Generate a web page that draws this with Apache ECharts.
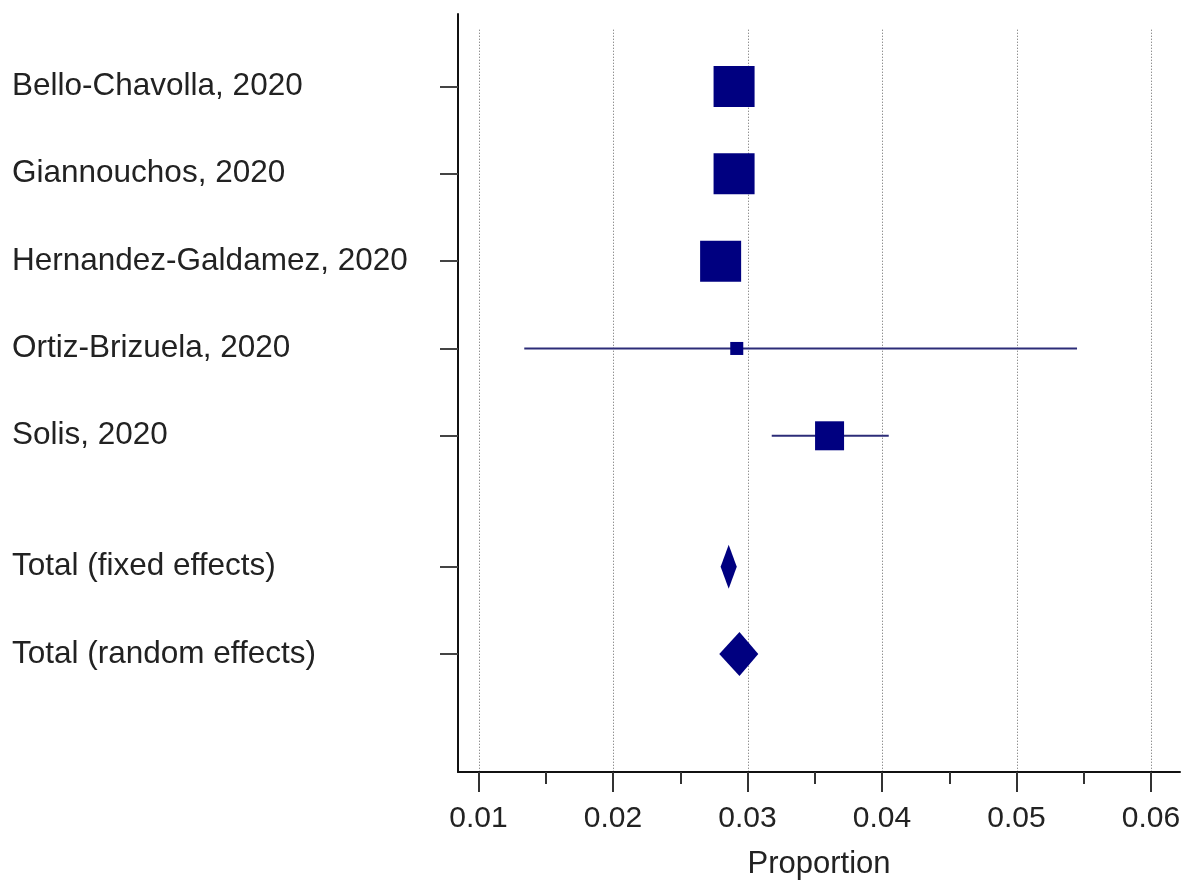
<!DOCTYPE html>
<html>
<head>
<meta charset="utf-8">
<title>Forest plot – Proportion</title>
<script src="https://cdn.jsdelivr.net/npm/echarts@6/dist/echarts.min.js"></script>
<style>
  html, body { margin: 0; padding: 0; background: #ffffff; }
  #chart { width: 1188px; height: 886px; }
</style>
</head>
<body>
<div id="chart"></div>
<script>
// Individual studies: point estimate, 95% CI and relative weight (%)
const studies = ['Bello-Chavolla, 2020', 'Giannouchos, 2020', 'Hernandez-Galdamez, 2020', 'Ortiz-Brizuela, 2020', 'Solis, 2020'];
const studyEst = [0.0290, 0.0290, 0.0280, 0.0292, 0.0361];
const studyLow = [0.0285, 0.0285, 0.0275, 0.0134, 0.0318];
const studyHigh = [0.0295, 0.0295, 0.0285, 0.0545, 0.0405];
const studyWeight = [27.8, 27.8, 27.8, 2.8, 13.9];

// Pooled estimates
const pooledLabels = ['Total (fixed effects)', 'Total (random effects)'];
const pooledEst = [0.0286, 0.0294];
const pooledLow = [0.0280, 0.0279];
const pooledHigh = [0.0292, 0.0308];

// Axis ticks
const xTicks = [0.01, 0.02, 0.03, 0.04, 0.05, 0.06];
const xMinorTicks = [0.015, 0.025, 0.035, 0.045, 0.055];

// Row positions: studies one per row, pooled rows after a half-row gap
const studyRows = studies.map((_, i) => i);
const pooledRows = pooledLabels.map((_, j) => studies.length + 0.5 + j);
const allRows = studyRows.concat(pooledRows);
const allLabels = studies.concat(pooledLabels);

const NAVY = '#000080';
const FONT = "'Liberation Sans', Arial, sans-serif";
const Y_MIN = -0.83, Y_MAX = 7.85, GRID_TOP_VALUE = -0.65;
const X_MIN = 0.008473, X_MAX = 0.062156;

const studyData = studies.map((_, i) => [studyEst[i], studyLow[i], studyHigh[i], studyRows[i], studyWeight[i]]);
const pooledData = pooledLabels.map((_, j) => [pooledEst[j], pooledLow[j], pooledHigh[j], pooledRows[j]]);

const chart = echarts.init(document.getElementById('chart'), null, { renderer: 'canvas' });

chart.setOption({
  animation: false,
  backgroundColor: '#ffffff',
  textStyle: { fontFamily: FONT },
  grid: { left: 458, right: 8, top: 14, bottom: 114, containLabel: false },
  xAxis: [
    {
      type: 'value',
      min: X_MIN,
      max: X_MAX,
      position: 'bottom',
      name: 'Proportion',
      nameLocation: 'middle',
      nameGap: 77,
      nameTextStyle: { fontSize: 31, color: '#222', fontFamily: FONT },
      axisLine: { show: true, onZero: false, lineStyle: { color: '#111', width: 2 } },
      axisTick: { show: true, customValues: xTicks, length: 20, lineStyle: { color: '#333', width: 2 } },
      axisLabel: {
        show: true,
        customValues: xTicks,
        formatter: v => Number(v).toFixed(2),
        fontSize: 30, color: '#222', margin: 32, fontFamily: FONT
      },
      splitLine: { show: false }
    },
    {
      type: 'value',
      min: X_MIN,
      max: X_MAX,
      position: 'bottom',
      offset: 0,
      axisLine: { show: false, onZero: false },
      axisTick: { show: true, customValues: xMinorTicks, length: 12, lineStyle: { color: '#333', width: 2 } },
      axisLabel: { show: false },
      splitLine: { show: false }
    }
  ],
  yAxis: {
    type: 'value',
    inverse: true,
    min: Y_MIN,
    max: Y_MAX,
    axisLine: { show: true, onZero: false, lineStyle: { color: '#111', width: 2 } },
    axisTick: { show: true, customValues: allRows, length: 18, lineStyle: { color: '#444', width: 2 } },
    axisLabel: {
      show: true,
      customValues: allRows,
      formatter: v => {
        const k = allRows.findIndex(r => Math.abs(r - v) < 1e-6);
        return k >= 0 ? allLabels[k] : '';
      },
      align: 'left',
      margin: 446,
      fontSize: 31.5,
      color: '#222',
      fontFamily: FONT
    },
    splitLine: { show: false }
  },
  series: [
    {
      // dotted vertical reference lines at the major ticks
      type: 'custom',
      name: 'gridlines',
      silent: true,
      z: 1,
      data: xTicks.map(v => [v]),
      renderItem: (params, api) => {
        const top = api.coord([api.value(0), GRID_TOP_VALUE]);
        const bottom = api.coord([api.value(0), Y_MAX]);
        const x = Math.round(top[0]) + 0.5;
        return {
          type: 'line',
          shape: { x1: x, y1: top[1], x2: x, y2: bottom[1] - 1 },
          style: { stroke: '#666666', lineWidth: 1, lineDash: [1, 2] }
        };
      }
    },
    {
      // study estimates: CI whisker plus weight-scaled square
      type: 'custom',
      name: 'studies',
      z: 3,
      data: studyData,
      encode: { x: [0, 1, 2], y: 3 },
      renderItem: (params, api) => {
        const row = api.value(3);
        const c = api.coord([api.value(0), row]);
        const lo = api.coord([api.value(1), row]);
        const hi = api.coord([api.value(2), row]);
        const side = 7.78 * Math.sqrt(api.value(4));
        return {
          type: 'group',
          children: [
            {
              type: 'line',
              shape: { x1: lo[0], y1: c[1], x2: hi[0], y2: c[1] },
              style: { stroke: '#2c2c78', lineWidth: 2 }
            },
            {
              type: 'rect',
              shape: { x: c[0] - side / 2, y: c[1] - side / 2, width: side, height: side },
              style: { fill: NAVY }
            }
          ]
        };
      }
    },
    {
      // pooled estimates drawn as diamonds spanning the CI
      type: 'custom',
      name: 'pooled',
      z: 3,
      data: pooledData,
      encode: { x: [0, 1, 2], y: 3 },
      renderItem: (params, api) => {
        const row = api.value(3);
        const c = api.coord([api.value(0), row]);
        const lo = api.coord([api.value(1), row]);
        const hi = api.coord([api.value(2), row]);
        const h = 22;
        return {
          type: 'polygon',
          shape: { points: [[lo[0], c[1]], [c[0], c[1] - h], [hi[0], c[1]], [c[0], c[1] + h]] },
          style: { fill: NAVY }
        };
      }
    }
  ]
});
</script>
</body>
</html>
